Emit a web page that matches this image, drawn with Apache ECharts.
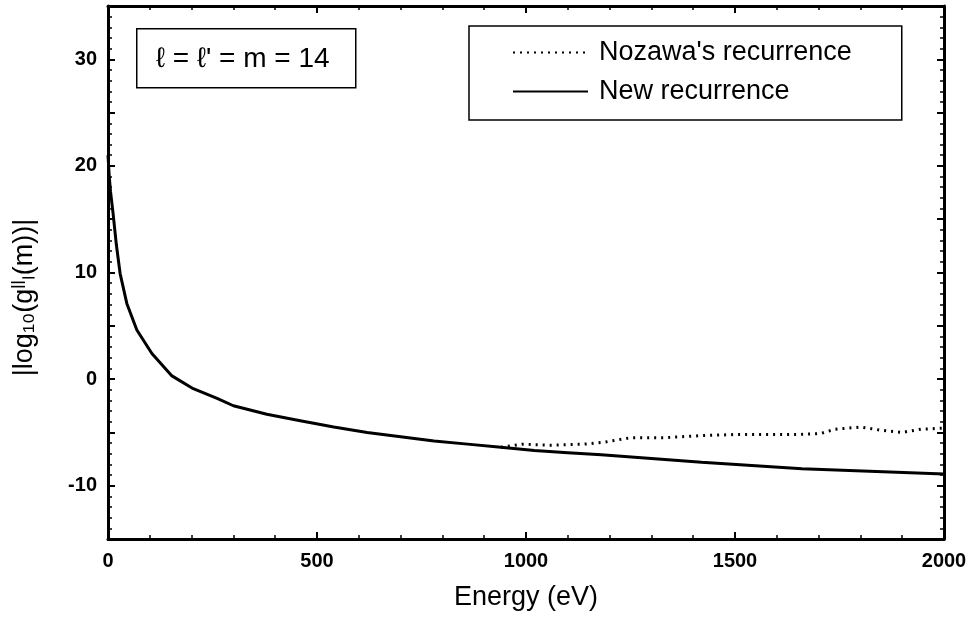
<!DOCTYPE html>
<html>
<head>
    <meta charset="UTF-8">
    <title>log10 g vs Energy</title>
    <script src="https://cdn.jsdelivr.net/npm/echarts@6.0.0/dist/echarts.min.js"></script>
    <style>
        html, body { margin: 0; padding: 0; background: #fff; }
        #chart { width: 975px; height: 623px; }
    </style>
</head>
<body>
    <div id="chart"></div>
    <script>
        // New recurrence (solid)
        const newEnergy = [0, 3, 6, 12, 20, 29, 45, 69, 105, 153, 204, 261, 300, 380, 460, 540, 620, 700, 780, 860, 940, 1020, 1100, 1180, 1420, 1660, 2000];
        const newValues = [21, 19, 17.6, 15.6, 12.6, 9.9, 7.1, 4.6, 2.4, 0.3, -0.9, -1.8, -2.5, -3.3, -3.9, -4.5, -5.0, -5.4, -5.8, -6.1, -6.4, -6.7, -6.9, -7.1, -7.8, -8.4, -8.9];

        // Nozawa's recurrence (dotted), separates from the solid curve near 1000 eV
        const nozEnergy = [940, 990, 1060, 1140, 1190, 1250, 1330, 1420, 1500, 1580, 1650, 1705, 1740, 1800, 1850, 1900, 1945, 2000];
        const nozValues = [-6.4, -6.1, -6.2, -6.1, -5.9, -5.5, -5.5, -5.3, -5.2, -5.2, -5.2, -5.1, -4.7, -4.5, -4.8, -5.0, -4.7, -4.6];

        const xTicks = [0, 500, 1000, 1500, 2000];
        const yTicks = [-10, 0, 10, 20, 30];

        const font = 'Liberation Sans, Arial, sans-serif';

        function pairs(xs, ys) {
            return xs.map((x, i) => [x, ys[i]]);
        }

        const chart = echarts.init(document.getElementById('chart'));

        const frameAxis = {
            axisLine: { show: true, onZero: false, lineStyle: { color: '#000', width: 3 } },
            axisTick: { show: true, inside: true, length: 7, lineStyle: { color: '#000', width: 2 } },
            minorTick: { show: true, length: 4, lineStyle: { color: '#000', width: 1.5 } },
            splitLine: { show: false }
        };

        chart.setOption({
            animation: false,
            backgroundColor: '#fff',
            grid: { left: 108, right: 31, top: 6, bottom: 84 },
            xAxis: [
                Object.assign({}, frameAxis, {
                    type: 'value', min: 0, max: 2000, interval: 500,
                    minorTick: Object.assign({}, frameAxis.minorTick, { splitNumber: 5 }),
                    axisLabel: {
                        color: '#000', fontSize: 20, fontWeight: 'bold', fontFamily: font, margin: 12,
                        formatter: v => xTicks.includes(v) ? String(v) : ''
                    },
                    name: 'Energy (eV)', nameLocation: 'middle', nameGap: 45,
                    nameTextStyle: { color: '#000', fontSize: 27, fontFamily: font }
                }),
                Object.assign({}, frameAxis, {
                    type: 'value', min: 0, max: 2000, interval: 500, position: 'top',
                    minorTick: Object.assign({}, frameAxis.minorTick, { splitNumber: 5 }),
                    axisLabel: { show: false }
                })
            ],
            yAxis: [
                Object.assign({}, frameAxis, {
                    type: 'value', min: -15, max: 35, interval: 5,
                    minorTick: Object.assign({}, frameAxis.minorTick, { splitNumber: 5 }),
                    axisLabel: {
                        color: '#000', fontSize: 20, fontWeight: 'bold', fontFamily: font, margin: 11,
                        formatter: v => yTicks.includes(v) ? String(v) : ''
                    },
                    name: '|log\u2081\u2080(g\u02E1\u02E1\u2097(m))|', nameLocation: 'middle', nameGap: 70,
                    nameTextStyle: { color: '#000', fontSize: 27, fontFamily: font, padding: [0, 50, 0, 0] }
                }),
                Object.assign({}, frameAxis, {
                    type: 'value', min: -15, max: 35, interval: 5, position: 'right',
                    minorTick: Object.assign({}, frameAxis.minorTick, { splitNumber: 5 }),
                    axisLabel: { show: false }
                })
            ],
            legend: {
                orient: 'vertical',
                left: 469, top: 26,
                padding: [13, 50, 15, 43],
                itemGap: 12,
                itemWidth: 75, itemHeight: 12,
                borderColor: '#000', borderWidth: 1.5,
                itemStyle: { opacity: 0 },
                textStyle: { color: '#000', fontSize: 27, fontFamily: font, padding: [0, 0, 0, 6] },
                data: ["Nozawa's recurrence", 'New recurrence']
            },
            graphic: [{
                type: 'group', left: 136, top: 28,
                children: [
                    { type: 'rect', shape: { x: 0, y: 0, width: 219, height: 59 },
                      style: { fill: '#fff', stroke: '#000', lineWidth: 1.5 } },
                    { type: 'text', x: 106, y: 31,
                      style: { text: '\u2113 = \u2113\' = m = 14', fill: '#000', fontSize: 28, fontFamily: font,
                               align: 'center', verticalAlign: 'middle' } }
                ]
            }],
            series: [
                {
                    name: "Nozawa's recurrence", type: 'line', symbol: 'none',
                    data: pairs(nozEnergy, nozValues),
                    lineStyle: { color: '#000', width: 3, type: [2, 5] },
                    itemStyle: { color: '#000' }
                },
                {
                    name: 'New recurrence', type: 'line', symbol: 'none',
                    data: pairs(newEnergy, newValues),
                    lineStyle: { color: '#000', width: 3 },
                    itemStyle: { color: '#000' }
                }
            ]
        });
    </script>
</body>
</html>
